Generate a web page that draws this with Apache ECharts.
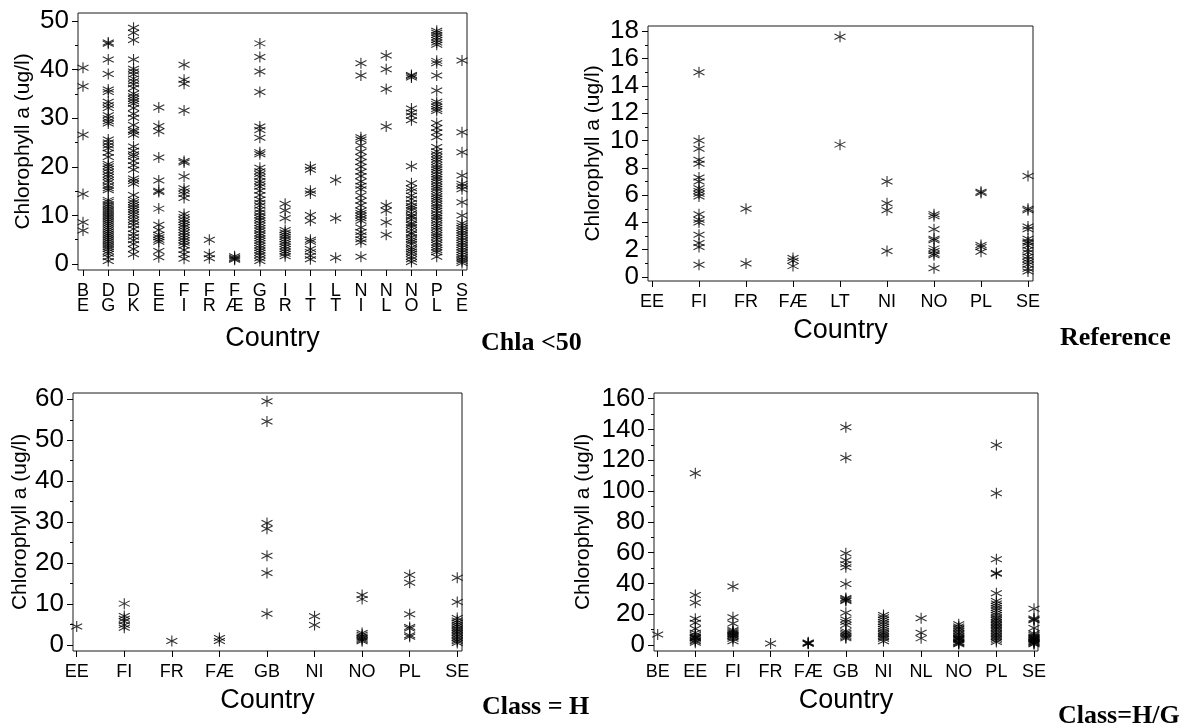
<!DOCTYPE html>
<html>
<head>
<meta charset="utf-8">
<script src="https://cdn.jsdelivr.net/npm/echarts@6/dist/echarts.min.js"></script>
<style>
  html, body { margin: 0; padding: 0; background: #fff; }
  #chart { width: 1188px; height: 724px; }
</style>
</head>
<body>
<div id="chart"></div>
<script>
// ---- Chla < 50 ----
const chlaCats = ['BE','DG','DK','EE','FI','FR','FÆ','GB','IR','IT','LT','NI','NL','NO','PL','SE'];
const chlaVals = [
  [40.4, 36.6, 26.6, 14.4, 8.6, 6.9],
  [45.6, 45.3, 42.1, 39.1, 35.9, 35.4, 33.4, 32.7, 32.1, 30.6, 30.0, 29.4, 28.9, 25.6, 25.0, 24.4, 23.8, 22.9, 22.0, 20.6, 20.1, 19.6, 19.0, 18.4, 17.9, 17.3, 16.8, 16.1, 15.6, 15.2, 13.2, 12.8, 12.3, 11.9, 11.5, 11.1, 10.7, 10.3, 9.9, 9.5, 9.1, 8.7, 8.3, 7.9, 7.5, 7.1, 6.7, 6.3, 5.9, 5.5, 5.1, 4.7, 4.3, 3.9, 3.5, 3.1, 2.6, 2.1, 1.4, 0.6],
  [48.6, 47.6, 46.1, 42.1, 40.2, 39.6, 39.0, 38.2, 37.6, 37.0, 36.2, 35.1, 34.5, 34.0, 33.5, 33.0, 32.1, 30.9, 30.1, 28.6, 27.6, 27.2, 26.6, 24.2, 23.3, 22.6, 22.1, 21.2, 20.3, 19.4, 17.6, 17.1, 16.5, 14.2, 13.2, 12.7, 12.2, 11.7, 11.2, 10.7, 10.2, 9.7, 9.1, 8.6, 8.0, 7.2, 6.3, 5.6, 4.9, 4.1, 3.1, 2.0],
  [32.2, 28.4, 27.3, 21.9, 17.2, 15.1, 14.8, 11.4, 8.1, 7.0, 6.0, 5.5, 5.0, 4.6, 2.7, 1.4],
  [41.0, 37.9, 37.1, 31.6, 21.2, 20.9, 18.0, 15.6, 15.0, 14.4, 13.6, 10.3, 9.7, 9.1, 8.6, 8.1, 7.6, 7.0, 6.5, 5.9, 5.4, 4.9, 4.4, 3.8, 2.9, 2.0, 1.1],
  [5.0, 2.0, 1.2],
  [1.6, 1.3, 1.1, 0.9],
  [45.4, 42.6, 39.6, 35.4, 28.3, 27.6, 26.0, 23.0, 22.6, 19.8, 19.1, 18.5, 17.9, 17.1, 16.5, 15.9, 15.1, 14.2, 13.3, 12.6, 12.0, 11.2, 10.6, 10.0, 9.5, 9.0, 8.4, 7.9, 7.4, 6.9, 6.3, 5.8, 5.3, 4.8, 4.3, 3.8, 3.3, 2.8, 2.3, 1.8, 1.2, 0.6],
  [12.4, 11.0, 9.4, 7.0, 6.5, 6.0, 5.6, 5.1, 4.6, 4.1, 3.6, 3.1, 2.6, 2.1, 1.6],
  [20.0, 19.4, 15.1, 14.5, 10.1, 8.9, 5.0, 4.6, 3.1, 2.5, 1.7, 1.0],
  [17.3, 9.4, 1.3],
  [41.3, 38.8, 26.1, 25.6, 24.4, 23.1, 22.0, 21.0, 20.0, 19.0, 18.1, 17.0, 16.1, 15.4, 14.1, 13.0, 12.1, 11.0, 10.5, 10.0, 9.4, 8.9, 7.5, 6.6, 5.9, 5.1, 4.5, 1.5],
  [42.9, 40.1, 36.0, 28.3, 12.1, 11.0, 8.6, 6.0],
  [38.9, 38.7, 38.4, 32.0, 31.2, 30.5, 29.6, 20.1, 16.6, 15.6, 15.0, 14.1, 13.4, 12.6, 12.0, 11.6, 11.1, 10.4, 9.9, 9.6, 9.1, 8.4, 8.1, 7.6, 7.0, 6.4, 6.1, 5.5, 5.0, 4.6, 4.1, 3.4, 3.0, 2.6, 2.1, 1.5, 1.0, 0.4],
  [48.0, 47.6, 47.1, 46.6, 46.1, 45.6, 45.1, 41.8, 41.3, 38.8, 35.7, 33.4, 32.9, 32.4, 31.9, 31.5, 29.0, 28.0, 27.1, 26.1, 24.1, 23.2, 22.6, 22.0, 21.5, 21.0, 20.4, 19.9, 19.5, 19.0, 18.4, 17.9, 17.5, 17.0, 16.4, 15.9, 15.5, 15.0, 14.4, 13.9, 13.5, 13.0, 12.4, 11.9, 11.5, 11.0, 10.4, 9.9, 9.5, 9.0, 8.4, 7.9, 7.5, 7.0, 6.4, 5.9, 5.5, 5.0, 4.4, 3.9, 3.4, 2.9, 2.4, 1.5],
  [41.9, 27.1, 23.0, 18.2, 16.5, 16.0, 15.4, 12.7, 10.0, 8.4, 7.9, 7.4, 6.9, 6.4, 5.9, 5.4, 4.9, 4.4, 3.9, 3.4, 2.9, 2.4, 1.9, 1.4, 1.0, 0.6, 0.2]
];
const chlaTicks = [0, 10, 20, 30, 40, 50];
const chlaMinor = [5, 15, 25, 35, 45];

// ---- Reference ----
const refCats = ['EE','FI','FR','FÆ','LT','NI','NO','PL','SE'];
const refVals = [
  [],
  [15.0, 10.0, 9.4, 8.6, 8.3, 7.3, 7.0, 6.5, 6.3, 6.1, 5.9, 4.6, 4.2, 4.0, 3.1, 2.5, 2.2, 0.9],
  [5.0, 1.0],
  [1.4, 1.2, 0.8],
  [17.6, 9.7],
  [7.0, 5.4, 4.9, 1.9],
  [4.6, 4.45, 3.5, 2.8, 2.7, 2.1, 1.9, 1.7, 1.6, 0.65],
  [6.25, 6.15, 2.35, 2.2, 1.85],
  [7.4, 5.0, 4.9, 3.7, 3.5, 2.8, 2.6, 2.5, 2.3, 2.0, 1.8, 1.5, 1.3, 1.1, 0.9, 0.6, 0.4]
];
const refTicks = [0, 2, 4, 6, 8, 10, 12, 14, 16, 18];
const refMinor = [1, 3, 5, 7, 9, 11, 13, 15, 17];

// ---- Class = H ----
const classHCats = ['EE','FI','FR','FÆ','GB','NI','NO','PL','SE'];
const classHVals = [
  [4.5],
  [10.1, 7.1, 6.4, 5.8, 4.9, 4.2],
  [1.0],
  [1.7, 1.0],
  [59.5, 54.6, 29.8, 28.4, 21.8, 17.6, 7.6],
  [7.0, 4.9],
  [12.2, 11.2, 2.9, 2.5, 2.1, 1.8, 1.5, 1.2, 0.9],
  [17.1, 15.2, 7.5, 4.4, 4.0, 2.4, 2.0],
  [16.4, 10.5, 6.6, 6.0, 5.5, 5.0, 4.6, 4.1, 3.7, 3.3, 2.9, 2.5, 2.1, 1.7, 1.3, 0.9, 0.5]
];
const classHTicks = [0, 10, 20, 30, 40, 50, 60];
const classHMinor = [5, 15, 25, 35, 45, 55];

// ---- Class = H/G ----
const classHGCats = ['BE','EE','FI','FR','FÆ','GB','NI','NL','NO','PL','SE'];
const classHGVals = [
  [6.8],
  [111.5, 32.5, 27.5, 17.0, 14.5, 10.5, 8.0, 6.5, 5.5, 5.0, 4.5, 4.0, 3.0, 2.5, 1.5],
  [38.0, 18.0, 14.0, 9.8, 9.0, 8.3, 7.6, 7.0, 6.4, 5.8, 5.0, 4.0, 2.5],
  [1.0],
  [1.7, 1.3, 1.0, 0.8],
  [141.4, 121.6, 59.5, 55.0, 52.5, 50.5, 39.6, 30.5, 29.8, 29.0, 28.5, 21.0, 16.5, 15.0, 13.0, 9.0, 8.0, 7.0, 6.0, 5.0, 4.3],
  [19.5, 18.0, 16.5, 15.0, 13.5, 12.0, 10.5, 9.0, 8.0, 7.0, 6.0, 5.0, 4.0, 2.5],
  [17.3, 8.0, 4.3],
  [13.5, 12.0, 11.0, 10.0, 9.0, 8.0, 7.0, 6.0, 5.0, 4.5, 4.0, 3.5, 3.0, 2.0, 1.5, 1.0, 0.5],
  [129.9, 98.5, 55.6, 46.8, 46.2, 33.6, 28.5, 27.0, 25.5, 24.0, 22.5, 21.0, 19.5, 18.0, 17.0, 16.0, 15.0, 14.0, 13.0, 12.0, 11.0, 10.0, 9.0, 8.0, 7.0, 6.0, 5.0, 4.0, 3.0, 2.0],
  [23.5, 17.2, 16.5, 16.0, 11.0, 7.5, 6.5, 5.5, 5.0, 4.5, 4.0, 3.5, 3.0, 2.5, 2.0, 1.5, 1.0, 0.5]
];
const classHGTicks = [0, 20, 40, 60, 80, 100, 120, 140, 160];
const classHGMinor = [10, 30, 50, 70, 90, 110, 130, 150];

const yTitle = 'Chlorophyll a (ug/l)';
const xTitle = 'Country';
const panelTitles = ['Chla <50', 'Reference', 'Class = H', 'Class=H/G'];

// Layout of the four plot frames
const layouts = [
  { cats: chlaCats,    vals: chlaVals,    ticks: chlaTicks,    minor: chlaMinor,
    box: { left: 78,  top: 13,  width: 389, height: 257 }, x: [-0.198, 15.198], y: [-1.23, 51.65],
    stacked: true, labelMargin: 14, nameGap: 55, yNameGap: 44 },
  { cats: refCats,     vals: refVals,     ticks: refTicks,     minor: refMinor,
    box: { left: 648, top: 26,  width: 385, height: 255 }, x: [-0.085, 8.106], y: [-0.29, 18.39],
    stacked: false, labelMargin: 11, nameGap: 36, yNameGap: 44 },
  { cats: classHCats,  vals: classHVals,  ticks: classHTicks,  minor: classHMinor,
    box: { left: 73,  top: 393, width: 389, height: 258 }, x: [-0.078, 8.1], y: [-1.47, 61.54],
    stacked: false, labelMargin: 11, nameGap: 36, yNameGap: 41 },
  { cats: classHGCats, vals: classHGVals, ticks: classHGTicks, minor: classHGMinor,
    box: { left: 654, top: 393, width: 384, height: 258 }, x: [-0.098, 10.106], y: [-3.9, 163.6],
    stacked: false, labelMargin: 11, nameGap: 36, yNameGap: 60 }
];

const FONT = 'Liberation Sans, Arial, Helvetica, sans-serif';
const INK = '#000';
// six-armed asterisk marker
const STAR = 'path://M6,0L6,12M0,3L12,9M0,9L12,3';

const grid = [], xAxis = [], yAxis = [], series = [];

layouts.forEach((p, i) => {
  const idx = p.cats.map((_, k) => k);
  grid.push(Object.assign({
    show: true, borderColor: '#1a1a1a', borderWidth: 1, backgroundColor: 'transparent',
    containLabel: false, outerBoundsMode: 'none'
  }, p.box));

  xAxis.push({
    gridIndex: i, type: 'value', min: p.x[0], max: p.x[1],
    axisLine: { show: false, onZero: false },
    splitLine: { show: false },
    axisTick: { show: true, inside: false, length: 6, customValues: idx, lineStyle: { color: INK, width: 1 } },
    axisLabel: {
      customValues: idx, margin: p.labelMargin, color: '#000', fontFamily: FONT, fontSize: 18,
      lineHeight: p.stacked ? 15 : 20,
      formatter: (v) => {
        const c = p.cats[Math.round(v)] || '';
        if (!p.stacked) return c;
        const ch = Array.from(c);
        return ch[0] + '\n' + ch.slice(1).join('');
      }
    },
    name: xTitle, nameLocation: 'middle', nameGap: p.nameGap,
    nameTextStyle: { fontFamily: FONT, fontSize: 27, color: '#000' }
  });

  yAxis.push({
    gridIndex: i, type: 'value', min: p.y[0], max: p.y[1], position: 'left',
    axisLine: { show: false, onZero: false },
    splitLine: { show: false },
    axisTick: { show: true, inside: false, length: 6, customValues: p.ticks, lineStyle: { color: INK, width: 1 } },
    axisLabel: { customValues: p.ticks, margin: 9, color: '#000', fontFamily: FONT, fontSize: 26 },
    name: yTitle, nameLocation: 'middle', nameRotate: 90, nameGap: p.yNameGap,
    nameTextStyle: { fontFamily: FONT, fontSize: 21, color: '#000' }
  });
  // minor ticks between labelled values
  yAxis.push({
    gridIndex: i, type: 'value', min: p.y[0], max: p.y[1], position: 'left', offset: 0,
    axisLine: { show: false, onZero: false },
    splitLine: { show: false },
    axisLabel: { show: false },
    axisTick: { show: true, inside: false, length: 3, customValues: p.minor, lineStyle: { color: INK, width: 1 } }
  });

  const data = [];
  p.vals.forEach((list, c) => list.forEach((v) => data.push([c, v])));
  series.push({
    type: 'scatter', xAxisIndex: i, yAxisIndex: i * 2, data,
    symbol: STAR, symbolSize: [11, 11], clip: false, silent: true,
    itemStyle: { color: 'transparent', borderColor: INK, borderWidth: 1.1 }
  });
});

const titleStyle = { fontFamily: 'Liberation Serif, Times New Roman, serif', fontWeight: 'bold', fontSize: 26, color: '#000' };
const title = [
  { text: panelTitles[0], left: 481, top: 330 },
  { text: panelTitles[1], left: 1060, top: 325 },
  { text: panelTitles[2], left: 482, top: 694 },
  { text: panelTitles[3], left: 1058, top: 703 }
].map((t) => Object.assign({ padding: 0, textStyle: titleStyle }, t));

const chart = echarts.init(document.getElementById('chart'), null, { renderer: 'canvas' });
chart.setOption({
  animation: false,
  backgroundColor: '#fff',
  textStyle: { fontFamily: FONT },
  title, grid, xAxis, yAxis, series
});
</script>
</body>
</html>
